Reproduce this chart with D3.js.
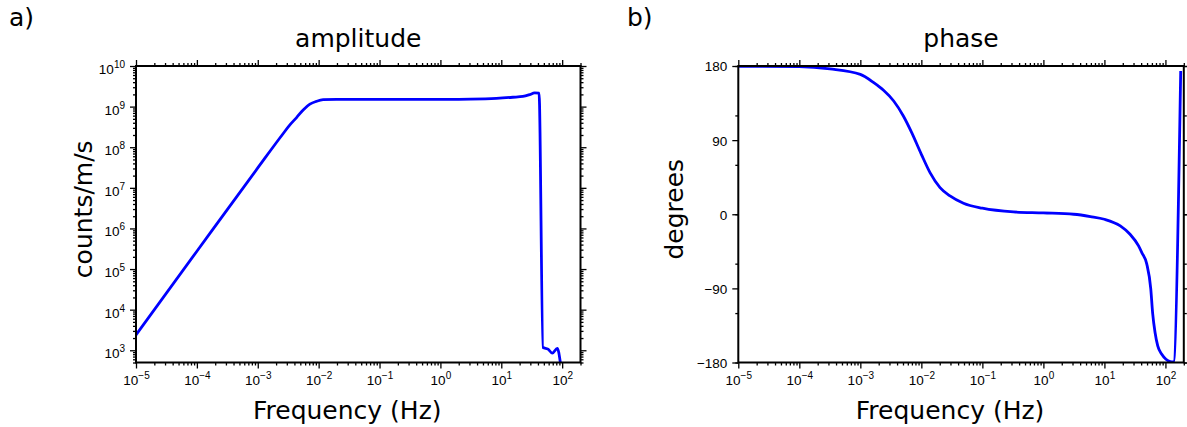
<!DOCTYPE html>
<html><head><meta charset="utf-8">
<script src="https://cdn.jsdelivr.net/npm/d3@7"></script>
<style>
body{margin:0;background:#fff;}
svg{display:block;}
</style></head>
<body>
<svg id="chart" width="1187" height="427"></svg>
<script>
// ---- data ----
const ampFreq = [1e-5, 1e-4, 1e-3, 0.00251, 0.00337, 0.00434, 0.00557, 0.00718, 0.00923, 0.01186, 0.0196, 0.1, 1.26, 3.16, 8.3, 15.5, 22.7, 29.2, 35.3, 41.7, 48.4, 58.5, 68.9, 83.2, 93.3];
const ampValue = [2400, 2.75e5, 3.1e7, 2.0e8, 3.55e8, 5.37e8, 8.3e8, 1.15e9, 1.35e9, 1.48e9, 1.51e9, 1.51e9, 1.51e9, 1.53e9, 1.6e9, 1.7e9, 1.78e9, 1.97e9, 2.17e9, 2.14e9, 1170, 1070, 850, 1120, 500];

const phaseFreq = [1e-5, 1e-4, 3.18e-4, 1e-3, 1.66e-3, 2.4e-3, 3.52e-3, 5.07e-3, 6.95e-3, 0.01, 0.01387, 0.02023, 0.0295, 0.049, 0.1, 0.324, 1, 3.14, 5.89, 10, 18.2, 26.3, 36.3, 41, 49.4, 57.5, 61.7, 67.6, 74.8, 87.1, 102, 120, 135, 178];
const phaseValue = [179.6, 179.2, 176.5, 169.9, 159.8, 150.5, 137.5, 119.3, 99.1, 72.8, 50.6, 32.4, 22.2, 13.3, 7.3, 2.8, 1.6, 0, -2.8, -6.1, -14.2, -24.3, -38.4, -46.5, -60.3, -90.6, -120, -143.6, -159.8, -170, -176, -178.8, -179.2, 174];

const freqTickExps = [-5, -4, -3, -2, -1, 0, 1, 2];
const ampTickExps = [3, 4, 5, 6, 7, 8, 9, 10];
const phaseMajorTicks = [-180, -90, 0, 90, 180];
const phaseMinorTicks = [-180, -120, -60, 0, 60, 120, 180];

const panelLetters = ["a)", "b)"];
const titles = ["amplitude", "phase"];
const xLabel = "Frequency (Hz)";
const yLabels = ["counts/m/s", "degrees"];

// ---- drawing ----
const svg = d3.select("#chart");
const labelFont = "DejaVu Sans, sans-serif";
const tickFont = "Liberation Sans, Arial, Helvetica, sans-serif";
const MINUS = "\u2212";

function logMinor(lo, hi) {
  const out = [];
  for (let e = Math.floor(Math.log10(lo)); e <= Math.ceil(Math.log10(hi)); e++) {
    for (let m = 2; m <= 9; m++) {
      const v = m * Math.pow(10, e);
      if (v >= lo && v <= hi) out.push(v);
    }
  }
  return out;
}

function supLabel(sel, exp) {
  sel.append("tspan").text("10");
  sel.append("tspan").attr("font-size", 10).attr("dy", -6)
     .text(exp < 0 ? MINUS + Math.abs(exp) : String(exp));
}

function panel(opts) {
  const {left, top, width, height, x, y} = opts;
  const g = svg.append("g").attr("transform", `translate(${left},${top})`);
  x.range([0, width]); y.range([height, 0]);

  const cid = "clip" + opts.id;
  g.append("clipPath").attr("id", cid).append("rect")
    .attr("x", 0).attr("y", 0).attr("width", width).attr("height", height);

  const tickStyle = s => { s.select(".domain").remove(); s.selectAll("line").attr("stroke", "#000").attr("stroke-width", 1.3); };

  const xMajor = freqTickExps.map(e => Math.pow(10, e));
  const xMinor = logMinor(x.domain()[0], x.domain()[1]);
  const gxb = g.append("g").attr("transform", `translate(0,${height})`)
    .call(d3.axisBottom(x).tickValues(xMajor).tickSize(6).tickFormat("")).call(tickStyle);
  g.append("g").attr("transform", `translate(0,${height})`)
    .call(d3.axisBottom(x).tickValues(xMinor).tickSize(3).tickFormat("")).call(tickStyle);
  g.append("g").call(d3.axisTop(x).tickValues(xMajor).tickSize(6).tickFormat("")).call(tickStyle);
  g.append("g").call(d3.axisTop(x).tickValues(xMinor).tickSize(3).tickFormat("")).call(tickStyle);
  gxb.selectAll(".tick").append("text")
    .attr("y", 22.5).attr("fill", "#000").attr("text-anchor", "middle")
    .attr("font-family", tickFont).attr("font-size", 13.5)
    .each(function(d) { supLabel(d3.select(this), Math.round(Math.log10(d))); });

  const gyl = g.append("g").call(d3.axisLeft(y).tickValues(opts.yMajor).tickSize(6).tickFormat("")).call(tickStyle);
  g.append("g").call(d3.axisLeft(y).tickValues(opts.yMinor).tickSize(3).tickFormat("")).call(tickStyle);
  g.append("g").attr("transform", `translate(${width},0)`)
    .call(d3.axisRight(y).tickValues(opts.yMajor).tickSize(6).tickFormat("")).call(tickStyle);
  g.append("g").attr("transform", `translate(${width},0)`)
    .call(d3.axisRight(y).tickValues(opts.yMinor).tickSize(3).tickFormat("")).call(tickStyle);
  gyl.selectAll(".tick").append("text")
    .attr("x", -11).attr("fill", "#000").attr("text-anchor", "end")
    .attr("font-family", tickFont).attr("font-size", 13.5)
    .each(function(d) { opts.yLabel(d3.select(this), d); });

  const line = d3.line().curve(d3.curveMonotoneX).x(d => x(d[0])).y(d => y(d[1]));
  g.append("path").datum(opts.data)
    .attr("clip-path", `url(#${cid})`)
    .attr("fill", "none").attr("stroke", "#0000ff").attr("stroke-width", 2.8)
    .attr("stroke-linejoin", "round")
    .attr("d", line);

  g.append("rect").attr("x", 0).attr("y", 0).attr("width", width).attr("height", height)
    .attr("fill", "none").attr("stroke", "#000").attr("stroke-width", 2);

  g.append("text").attr("x", width / 2).attr("y", -19).attr("text-anchor", "middle")
    .attr("font-family", labelFont).attr("font-size", 25).text(opts.title);
  g.append("text").attr("x", width / 2 - 11).attr("y", height + 56).attr("text-anchor", "middle")
    .attr("font-family", labelFont).attr("font-size", 25).text(xLabel);
  g.append("text").attr("transform", `translate(${opts.yLabelX},${height / 2 - 5}) rotate(-90)`)
    .attr("text-anchor", "middle")
    .attr("font-family", labelFont).attr("font-size", 25).text(opts.yTitle);
  svg.append("text").attr("x", opts.letterX).attr("y", 26)
    .attr("font-family", labelFont).attr("font-size", 25).text(opts.letter);
}

const xDomain = [1e-5, 200];

panel({
  id: "a", left: 136, top: 66, width: 444.5, height: 296.5,
  x: d3.scaleLog().domain(xDomain),
  y: d3.scaleLog().domain([500, 1e10]),
  yMajor: ampTickExps.map(e => Math.pow(10, e)),
  yMinor: logMinor(500, 1e10),
  yLabel: (sel, d) => {
    sel.attr("dy", "0.55em");
    supLabel(sel, Math.round(Math.log10(d)));
  },
  data: ampFreq.map((f, i) => [f, ampValue[i]]),
  title: titles[0], yTitle: yLabels[0], yLabelX: -44, letter: panelLetters[0], letterX: 9
});

panel({
  id: "b", left: 738.3, top: 66, width: 445.5, height: 296.5,
  x: d3.scaleLog().domain(xDomain),
  y: d3.scaleLinear().domain([-180, 180]),
  yMajor: phaseMajorTicks,
  yMinor: phaseMinorTicks,
  yLabel: (sel, d) => {
    sel.attr("dy", "0.36em").text(d < 0 ? MINUS + Math.abs(d) : String(d));
  },
  data: phaseFreq.map((f, i) => [f, phaseValue[i]]),
  title: titles[1], yTitle: yLabels[1], yLabelX: -55, letter: panelLetters[1], letterX: 627
});
</script>
</body></html>
